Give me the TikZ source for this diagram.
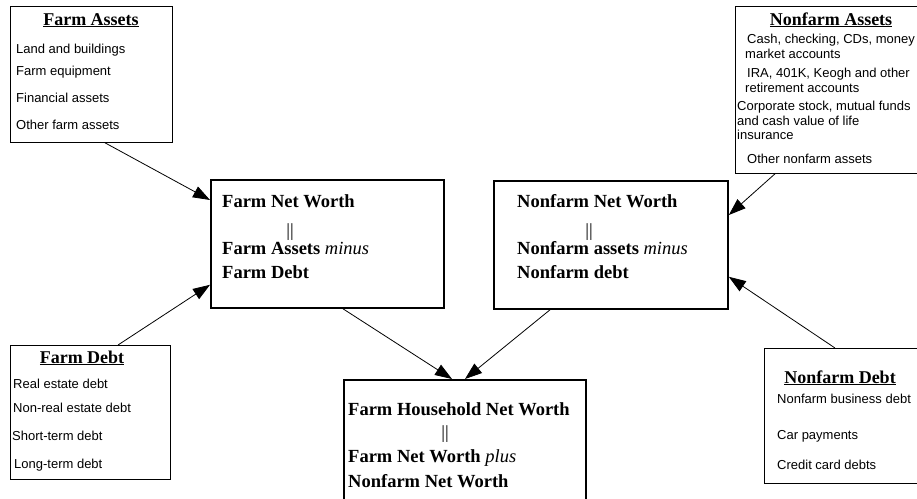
\documentclass[tikz,border=0pt]{standalone}
\usepackage{fontspec}
\setmainfont{Liberation Serif}
\setsansfont{Liberation Sans}
\usetikzlibrary{arrows.meta}
\tikzset{
  smallbox/.style = {draw, line width=0.8pt, anchor=north west, inner sep=0pt},
  bigbox/.style   = {draw, line width=1.8pt, anchor=north west, inner sep=0pt},
  title/.style    = {anchor=base, inner sep=0pt, font=\fontsize{18}{21}\selectfont\bfseries},
  item/.style     = {anchor=base west, inner sep=0pt, font=\sffamily\fontsize{13}{15}\selectfont},
  sumline/.style  = {anchor=base west, inner sep=0pt, font=\fontsize{18.5}{22}\selectfont\bfseries},
  eqbar/.style    = {anchor=base, inner sep=0pt, font=\fontsize{18.5}{22}\selectfont},
  arrow/.style    = {-{Triangle[length=17pt,width=12pt]}, line width=0.8pt},
}
\newcommand{\opword}[1]{{\mdseries\itshape #1}}

\begin{document}
\begin{tikzpicture}[x=1pt,y=-1pt]
\useasboundingbox (0,0) rectangle (917,498);
\clip (0,0) rectangle (917,498);

% the four source boxes
\node[smallbox, minimum width=162pt, minimum height=136pt] (fa) at (10,6) {};
\node[title] (fa-title) at (91,25) {\underline{Farm Assets}};
\foreach \y/\t [count=\n] in {53/Land and buildings, 75/Farm equipment,
                               102/Financial assets, 129/Other farm assets}
  \node[item] (fa-\n) at (16,\y) {\t};

\node[smallbox, minimum width=200pt, minimum height=167pt] (na) at (735,6) {};
\node[title] (na-title) at (831,25) {\underline{Nonfarm Assets}};
\foreach \x/\y/\t [count=\n] in {747/43/{Cash, checking, CDs, money},
                                 745/58/market accounts,
                                 747/77/{IRA, 401K, Keogh and other},
                                 745/92/retirement accounts,
                                 737/110/{Corporate stock, mutual funds},
                                 737/125/and cash value of life,
                                 737/139/insurance,
                                 747/163/Other nonfarm assets}
  \node[item] (na-\n) at (\x,\y) {\t};

\node[smallbox, minimum width=160pt, minimum height=134pt] (fd) at (10,345) {};
\node[title] (fd-title) at (82,363) {\underline{Farm Debt}};
\foreach \x/\y/\t [count=\n] in {13/388/Real estate debt, 13/412/Non-real estate debt,
                                 12/440/Short-term debt, 14/468/Long-term debt}
  \node[item] (fd-\n) at (\x,\y) {\t};

\node[smallbox, minimum width=170pt, minimum height=135pt] (nd) at (764,348) {};
\node[title] (nd-title) at (840,383) {\underline{Nonfarm Debt}};
\foreach \y/\t [count=\n] in {403/Nonfarm business debt, 439/Car payments,
                              469/Credit card debts}
  \node[item] (nd-\n) at (777,\y) {\t};

% net worth boxes
\node[bigbox, minimum width=233pt, minimum height=128pt] (fnw) at (210,179) {};
\node[sumline] (fnw-1) at (222,207) {Farm Net Worth};
\node[eqbar] (fnw-eq) at (290,236) {||};
\node[sumline] (fnw-2) at (222,254) {Farm Assets \opword{minus}};
\node[sumline] (fnw-3) at (222,278) {Farm Debt};

\node[bigbox, minimum width=234pt, minimum height=128pt] (nnw) at (493,180) {};
\node[sumline] (nnw-1) at (517,207) {Nonfarm Net Worth};
\node[eqbar] (nnw-eq) at (589,236) {||};
\node[sumline] (nnw-2) at (517,254) {Nonfarm assets \opword{minus}};
\node[sumline] (nnw-3) at (517,278) {Nonfarm debt};

\node[bigbox, minimum width=242pt, minimum height=130pt] (hh) at (343,379) {};
\node[sumline] (hh-1) at (348,415) {Farm Household Net Worth};
\node[eqbar] (hh-eq) at (445,438) {||};
\node[sumline] (hh-2) at (348,462) {Farm Net Worth \opword{plus}};
\node[sumline] (hh-3) at (348,487) {Nonfarm Net Worth};

% connectors
\draw[arrow] ([xshift=95pt]fa.south west) -- ([yshift=-21pt]fnw.north west);
\draw[arrow] ([xshift=108pt]fd.north west) -- ([yshift=24pt]fnw.south west);
\draw[arrow] ([xshift=40pt]na.south west) -- ([yshift=-35pt]nnw.north east);
\draw[arrow] ([xshift=71pt]nd.north west) -- ([yshift=33pt]nnw.south east);
\draw[arrow] ([xshift=133pt]fnw.south west) -- ([xshift=109pt]hh.north west);
\draw[arrow] ([xshift=57pt]nnw.south west) -- ([xshift=122pt]hh.north west);
\end{tikzpicture}
\end{document}
